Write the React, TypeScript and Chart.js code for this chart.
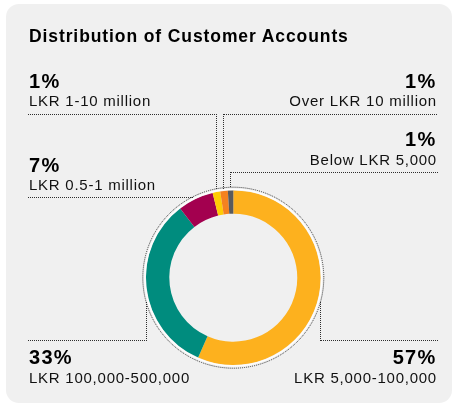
import React, { useEffect, useRef } from "react";
import { Chart, registerables } from "chart.js";

Chart.register(...registerables);

// ---- data ----
const title = "Distribution of Customer Accounts";
const categories = [
  "LKR 5,000-100,000",
  "LKR 100,000-500,000",
  "LKR 0.5-1 million",
  "LKR 1-10 million",
  "Over LKR 10 million",
  "Below LKR 5,000",
];
const shares = [56.6, 33.0, 6.6, 1.4, 1.4, 1.0];
const percentLabels = ["57%", "33%", "7%", "1%", "1%", "1%"];
const colors = ["#FDB11E", "#008C7E", "#A3004F", "#FFCB05", "#F58220", "#5A5A5C"];

// ---- layout (positions only) ----
type Side = "left" | "right";
const labelLayout: { side: Side; pctBase: number; descBase: number; lineY: number; kind: string }[] = [
  { side: "right", pctBase: 364, descBase: 382.7, lineY: 340.3, kind: "bottom" },
  { side: "left", pctBase: 364, descBase: 382.7, lineY: 340.3, kind: "bottom" },
  { side: "left", pctBase: 171.7, descBase: 189.3, lineY: 197.3, kind: "direct" },
  { side: "left", pctBase: 88.3, descBase: 106, lineY: 114.3, kind: "top" },
  { side: "right", pctBase: 88.3, descBase: 106, lineY: 114.3, kind: "top" },
  { side: "right", pctBase: 145.7, descBase: 165, lineY: 172, kind: "top" },
];
const LEFT_X = 28;
const RIGHT_X = 437;

const FONT = '"Liberation Sans", Arial, Helvetica, sans-serif';
const ASC = 0.8465;
const DOT = "#2e2e2e";

const leaderPlugin = {
  id: "leaders",
  afterDatasetsDraw(chart: any) {
    const meta = chart.getDatasetMeta(0);
    const a0 = meta.data[0];
    const { x: cx, y: cy, outerRadius } = a0.getProps(["x", "y", "outerRadius"], true);
    const ctx = chart.ctx as CanvasRenderingContext2D;
    const rd = outerRadius + 3.2;
    ctx.save();
    ctx.strokeStyle = "rgba(255,255,255,0.9)";
    ctx.lineWidth = 1.5;
    ctx.beginPath();
    ctx.arc(cx, cy, outerRadius + 1.1, 0, Math.PI * 2);
    ctx.stroke();

    ctx.strokeStyle = "#333";
    ctx.lineWidth = 1;
    ctx.setLineDash([1, 1]);
    ctx.beginPath();
    ctx.arc(cx, cy, rd, 0, Math.PI * 2);
    ctx.stroke();
    ctx.setLineDash([]);

    const circleY = (x: number, s: number) => cy + s * Math.sqrt(Math.max(0, rd * rd - (x - cx) * (x - cx)));
    const circleX = (y: number, s: number) => cx + s * Math.sqrt(Math.max(0, rd * rd - (y - cy) * (y - cy)));
    const midX = (i: number) => {
      const { startAngle, endAngle } = meta.data[i].getProps(["startAngle", "endAngle"], true);
      const m = (startAngle + endAngle) / 2;
      return cx + Math.cos(m) * outerRadius;
    };
    ctx.fillStyle = DOT;
    const hDots = (x1: number, x2: number, y: number) => {
      const a = Math.round(Math.min(x1, x2));
      const b = Math.round(Math.max(x1, x2));
      const yy = Math.floor(y);
      for (let x = a; x <= b; x += 2) ctx.fillRect(x, yy, 1, 1);
    };
    const vDots = (x: number, y1: number, y2: number) => {
      const a = Math.round(Math.min(y1, y2));
      const b = Math.round(Math.max(y1, y2));
      const xx = Math.floor(x);
      for (let y = a; y <= b; y += 2) ctx.fillRect(xx, y, 1, 1);
    };

    labelLayout.forEach((L, i) => {
      const startX = L.side === "left" ? LEFT_X : RIGHT_X;
      if (L.kind === "top") {
        const xv = midX(i);
        hDots(startX, xv, L.lineY);
        vDots(xv, L.lineY, circleY(xv, -1));
      } else if (L.kind === "direct") {
        const xe = circleX(L.lineY, L.side === "left" ? -1 : 1);
        hDots(startX, xe, L.lineY);
      } else {
        const xv = L.side === "left" ? cx - outerRadius : cx + outerRadius;
        hDots(startX, xv, L.lineY);
        vDots(xv, L.lineY, circleY(xv, 1));
      }
    });
    ctx.restore();
  },
};

function ChartCanvas() {
  const ref = useRef<HTMLCanvasElement | null>(null);
  useEffect(() => {
    if (!ref.current) return;
    const chart = new Chart(ref.current, {
      type: "doughnut",
      data: {
        labels: categories,
        datasets: [{ data: shares, backgroundColor: colors, borderWidth: 0 }],
      },
      options: {
        responsive: false,
        maintainAspectRatio: false,
        animation: false,
        cutout: "73.3%",
        events: [],
        layout: { padding: { left: 146, right: 131.4, top: 190.4, bottom: 39 } },
        plugins: {
          legend: { display: false },
          tooltip: { enabled: false },
          title: { display: false },
        },
      } as any,
      plugins: [leaderPlugin],
    });
    return () => chart.destroy();
  }, []);
  return (
    <canvas
      ref={ref}
      width={452}
      height={404}
      style={{ position: "absolute", left: 0, top: 0, width: 452, height: 404 }}
    />
  );
}

export default function App() {
  const pctSize = 20;
  const pctLs = 1.3;
  const descSize = 15;
  const descLs = 0.75;
  const titleSize = 17.5;
  return (
    <div
      style={{
        position: "fixed",
        left: 0,
        top: 0,
        width: 452,
        height: 404,
        background: "#ffffff",
        overflow: "hidden",
        fontFamily: FONT,
        color: "#111",
      }}
    >
      <div
        style={{
          position: "absolute",
          left: 6,
          top: 4,
          width: 446,
          height: 399,
          background: "#f0f0f0",
          borderRadius: 13,
        }}
      />
      <ChartCanvas />
      <div
        style={{
          position: "absolute",
          left: 29,
          top: 42.8 - ASC * titleSize,
          fontSize: titleSize,
          lineHeight: `${titleSize}px`,
          fontWeight: 700,
          letterSpacing: 0.9,
          whiteSpace: "nowrap",
          color: "#000",
        }}
      >
        {title}
      </div>
      {labelLayout.map((L, i) => {
        const hPct: any =
          L.side === "left" ? { left: 29 } : { right: 452 - 435.3 - pctLs, textAlign: "right" };
        const hDesc: any =
          L.side === "left" ? { left: 29 } : { right: 452 - 436.2 - descLs, textAlign: "right" };
        return (
          <React.Fragment key={i}>
            <div
              style={{
                position: "absolute",
                top: L.pctBase - ASC * pctSize,
                fontSize: pctSize,
                lineHeight: `${pctSize}px`,
                fontWeight: 700,
                letterSpacing: pctLs,
                whiteSpace: "nowrap",
                color: "#000",
                ...hPct,
              }}
            >
              {percentLabels[i]}
            </div>
            <div
              style={{
                position: "absolute",
                top: L.descBase - ASC * descSize,
                fontSize: descSize,
                lineHeight: `${descSize}px`,
                letterSpacing: descLs,
                whiteSpace: "nowrap",
                ...hDesc,
              }}
            >
              {categories[i]}
            </div>
          </React.Fragment>
        );
      })}
    </div>
  );
}
